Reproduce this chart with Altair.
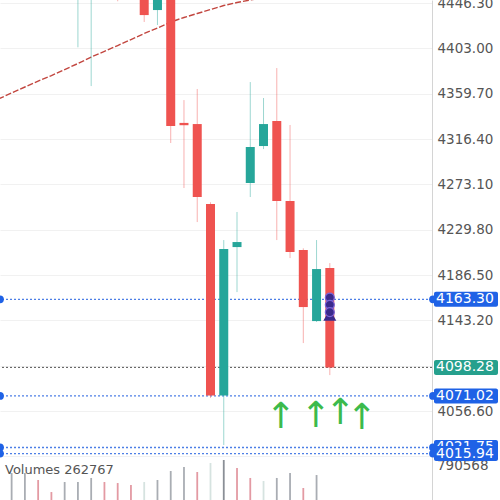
import altair as alt
import pandas as pd

# ---- data ----
idx    = [-5, -4, -3, -2, -1, 0, 1, 2, 3, 4, 5, 6, 7, 8, 9, 10, 11, 12, 13, 14]
opens  = [4460, 4458, 4480, 4500, 4490, 4462, 4439.6, 4456, 4331.8, 4330.7, 4254.3, 4071.5, 4213.2, 4274.4, 4309.7, 4333.6, 4257.2, 4210.4, 4142.5, 4193.2]
highs  = [4480, 4490, 4510, 4515, 4505, 4470, 4468, 4465, 4353.6, 4364.2, 4256.0, 4219.9, 4246.7, 4370.8, 4355.6, 4384.2, 4329.8, 4212.0, 4219.9, 4197.9]
lows   = [4404, 4367.0, 4462, 4448, 4455, 4428.2, 4425.3, 4312.6, 4269.6, 4237.1, 4069.0, 4024.1, 4170.2, 4261.0, 4306.8, 4219.9, 4202.7, 4121.5, 4141.6, 4090.9]
closes = [4470, 4478, 4500, 4490, 4462, 4434.8, 4455, 4328.8, 4329.6, 4261.0, 4071.5, 4211.3, 4218.0, 4308.8, 4330.7, 4257.2, 4208.5, 4155.9, 4192.2, 4098.28]

ma_idx = [-11, -10, -9, -8, -7, -6, -5, -4, -3, -2, -1, 0, 1, 2, 3, 4, 5, 6, 7, 8, 9]
ma_val = [4354.6, 4360.4, 4366.1, 4371.8, 4377.0, 4382.8, 4388.5, 4394.7, 4400.2, 4405.7, 4411.4,
          4417.2, 4422.4, 4428.2, 4432.5, 4436.3, 4440.1, 4443.9, 4446.8, 4449.2, 4451.5]

vol_idx = list(range(-10, 15))
vols = [662000, 662000, 593000, 474000, 573000, 573000, 613000, 573000, 563000, 544000, 573000, 593000,
        682000, 721000, 672000, 761000, 790568, 711000, 613000, 583000, 613000, 662000, 514000, 642000, 262767]
vol_dir = ["up", "up", "down", "down", "up", "up", "up", "down", "down", "down", "faint", "up",
           "up", "up", "down", "faint", "dark", "down", "down", "faint", "up", "up", "down", "up", "down"]
vol_axis_value = [790568]

tick_values = [4446.30, 4403.00, 4359.70, 4316.40, 4273.10, 4229.80, 4186.50, 4143.20, 4099.90, 4056.60, 4013.30]

level_prices = [4163.30, 4071.02, 4021.75, 4015.94]
current_price = [4098.28]

arrow_i = [10.28, 12.93, 14.77, 16.39]
arrow_p = [4050.8, 4051.8, 4054.7, 4049.9]

pin_p = [4165.0, 4158.0, 4151.0]

# ---- frames ----
cdf = pd.DataFrame({"i": idx, "open": opens, "high": highs, "low": lows, "close": closes})
cdf["dir"] = ["up" if c >= o else "down" for o, c in zip(opens, closes)]
madf = pd.DataFrame({"i": ma_idx, "ma": ma_val})
vdf = pd.DataFrame({"i": vol_idx, "vol": vols, "vdir": vol_dir})
lvl = pd.DataFrame({"price": level_prices, "label": [f"{p:.2f}" for p in level_prices]})
cur = pd.DataFrame({"price": current_price, "label": [f"{p:.2f}" for p in current_price]})
arr = pd.DataFrame({"i": arrow_i, "p": arrow_p, "t": ["↑"] * len(arrow_i)})
pin = pd.DataFrame({"i": [14] * len(pin_p), "p": pin_p})

BLUE = "#1f62e6"
FONT = "DejaVu Sans"

xs = alt.Scale(domain=[-10.5, 21.33], nice=False, zero=False)
X = alt.X("i:Q", scale=xs, axis=None)
ys = alt.Scale(domain=[3971.6, 4449.2], nice=False, zero=False)
yaxis = alt.Axis(orient="right", values=tick_values, format=".2f", labelFont=FONT, labelFontSize=13.5,
                 labelColor="#555555", labelPadding=5, ticks=False, domainColor="#d4d4d4",
                 grid=True, gridColor="#f1f1f1", labelOverlap=False, labelBound=False)
ccol = alt.Color("dir:N", scale=alt.Scale(domain=["up", "down"], range=["#26a69a", "#ef5350"]), legend=None)

def Y(field):
    return alt.Y(field, scale=ys, axis=yaxis, title=None)

ma = alt.Chart(madf).mark_line(clip=True, color="#c2463f", strokeWidth=1.4, strokeDash=[6, 2]).encode(
    x=X, y=Y("ma:Q"))

lvl_lines = alt.Chart(lvl).mark_rule(color="#4d7fe6", strokeWidth=1.3, strokeDash=[2, 2]).encode(y=Y("price:Q"))
cur_line = alt.Chart(cur).mark_rule(color="#555555", strokeWidth=1, strokeDash=[2, 2]).encode(y=Y("price:Q"))

wicks = alt.Chart(cdf).mark_rule(clip=True, strokeWidth=1, opacity=0.45).encode(
    x=X, y=Y("low:Q"), y2="high:Q", color=ccol)
bodies = alt.Chart(cdf).mark_bar(clip=True, width=9, opacity=1).encode(
    x=X, y=Y("open:Q"), y2="close:Q", color=ccol)

left_dots = alt.Chart(lvl).mark_circle(size=60, opacity=1, color=BLUE).encode(
    x=alt.value(0), y=Y("price:Q"))
right_dots = alt.Chart(lvl).mark_circle(size=60, opacity=1, color=BLUE).encode(
    x=alt.value(433), y=Y("price:Q"))


def tag(df, color):
    box = alt.Chart(df).mark_tick(orient="horizontal", thickness=15, size=64, opacity=1, color=color,
                                  cornerRadius=2).encode(x=alt.value(466), y=Y("price:Q"))
    txt = alt.Chart(df).mark_text(align="left", baseline="middle", color="white", font=FONT,
                                  fontSize=14).encode(x=alt.value(436), y=Y("price:Q"), text="label:N")
    return [box, txt]


tags = []
tags += tag(cur, "#26a08d")
for k in range(len(level_prices)):
    tags += tag(lvl.iloc[[k]], BLUE)

arrows = alt.Chart(arr).mark_text(font=FONT, fontSize=36, color="#3cba4c", baseline="middle").encode(
    x=X, y=Y("p:Q"), text="t:N")

pin_tri = alt.Chart(pin.iloc[[-1]]).mark_point(shape="triangle-up", size=170, filled=True, opacity=1,
                                               color="#3b2a8c", yOffset=3).encode(x=X, y=Y("p:Q"))
pin_c = alt.Chart(pin).mark_circle(size=80, opacity=1, color="#3b2a8c", stroke="#7a63d6",
                                   strokeWidth=1.2).encode(x=X, y=Y("p:Q"))

price = alt.layer(ma, lvl_lines, cur_line, wicks, bodies, left_dots, right_dots,
                  *tags, arrows, pin_tri, pin_c)

# volume pane
vs = alt.Scale(domain=[395280, 5336280], nice=False, zero=False)
vcol = alt.Color("vdir:N", scale=alt.Scale(domain=["up", "down", "faint", "dark"],
                                           range=["#a9adb3", "#e39aa3", "#d6e3e0", "#8a8f96"]), legend=None)
vbars = alt.Chart(vdf).mark_rule(clip=True, strokeWidth=1.8).encode(
    x=X, y=alt.Y("vol:Q", scale=vs, axis=None), y2=alt.value(500), color=vcol)
vlabel = alt.Chart(pd.DataFrame({"t": [f"Volumes {vols[-1]}"]})).mark_text(
    align="left", baseline="middle", font=FONT, fontSize=13, color="#555555").encode(
    x=alt.value(5), y=alt.value(470), text="t:N")
vaxis = alt.Chart(pd.DataFrame({"v": vol_axis_value})).mark_text(
    align="left", baseline="middle", font=FONT, fontSize=13.5, color="#555555", dy=6).encode(
    x=alt.value(437), y=alt.Y("v:Q", scale=vs, axis=None), text=alt.Text("v:Q", format="d"))
volume = alt.layer(vbars, vaxis, vlabel)

chart = alt.layer(volume, price).resolve_scale(y="independent", color="independent").properties(
    width=432, height=500,
    autosize=alt.AutoSizeParams(type="none"),
    padding={"left": 0, "top": 0, "right": 68, "bottom": 0},
    background="white",
).configure_view(strokeWidth=0)

chart.save("out.html", embed_options={"renderer": "svg", "actions": False})
